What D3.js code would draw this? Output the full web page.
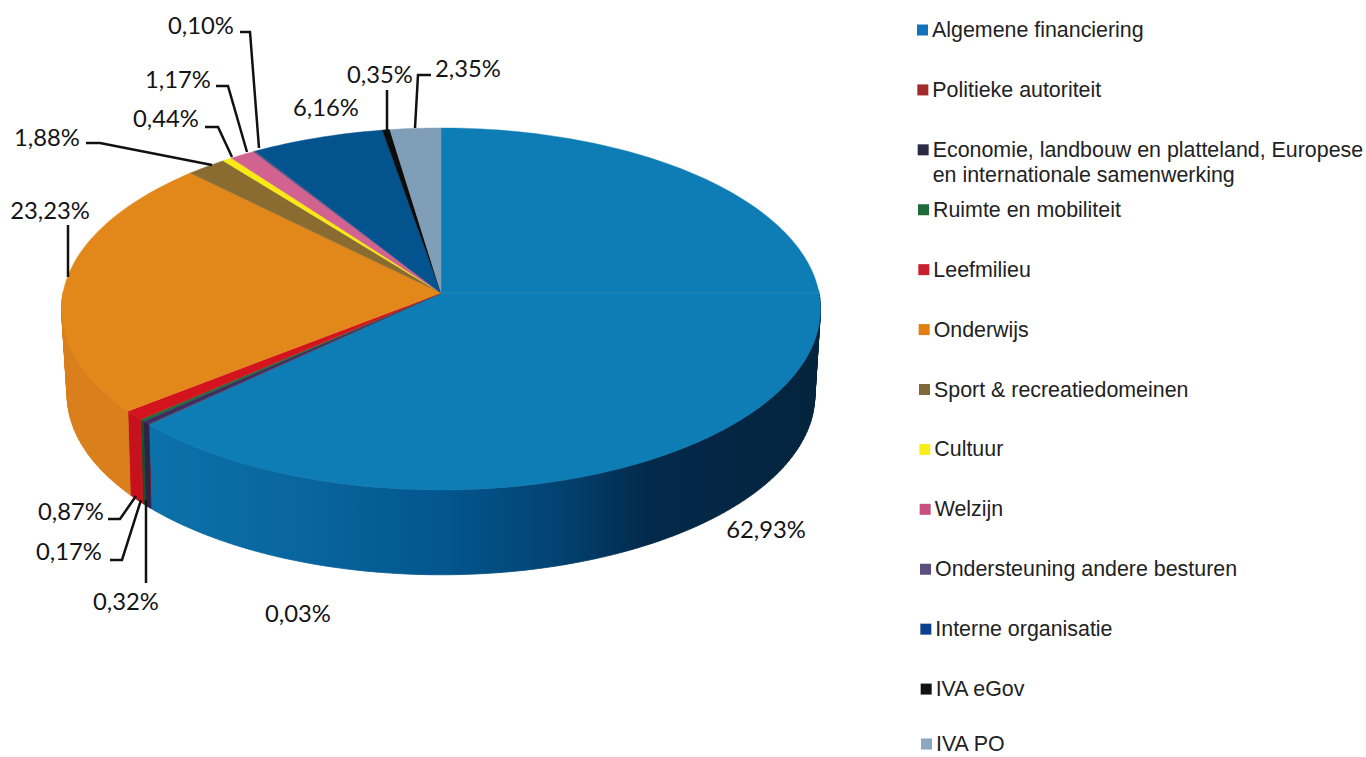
<!DOCTYPE html>
<html>
<head>
<meta charset="utf-8">
<script src="https://cdn.jsdelivr.net/npm/d3@7/dist/d3.min.js"></script>
<style>
html,body{margin:0;padding:0;background:#fff;overflow:hidden}
svg{display:block}
</style>
</head>
<body>
<svg id="c" width="1366" height="757"></svg>
<script>
// ---- data ----
const categories = ["Algemene financiering","Politieke autoriteit","Economie, landbouw en platteland, Europese en internationale samenwerking","Ruimte en mobiliteit","Leefmilieu","Onderwijs","Sport & recreatiedomeinen","Cultuur","Welzijn","Ondersteuning andere besturen","Interne organisatie","IVA eGov","IVA PO"];
const values = [62.93,0.03,0.32,0.17,0.87,23.23,1.88,0.44,1.17,0.10,6.16,0.35,2.35];
const topColors = ["#0f7db5","#9c2a2c","#3b2f62","#1f6b3a","#d3141f","#e2881a","#8b6c30","#f8ea12","#d2628f","#5a5080","#03538f","#0c0c0c","#7f9fb9"];
const sideColors = ["url(#blueSide)","#7c1f20","#2c2349","#175029","#c5121c","#d97f1c","#6f5526","#d8cb10","#b05078","#443c60","#023c68","#000000","#64809a"];
const swatchColors = ["#1273b8","#a12a2d","#2b2a45","#1f6b3a","#c8202f","#e17f13","#80683a","#f7ee1a","#c94f80","#5a5080","#0f3f8f","#111111","#8aa6c0"];

// label layout (separate from the values): text anchor point and leader bend/start
const labelLayout = [
  {i:0,  x:766, y:529},
  {i:1,  x:298, y:613},
  {i:2,  x:126, y:601, path:[[146,583],[146,500]]},
  {i:3,  x:69,  y:551, path:[[110,560],[122,560],[141,500]]},
  {i:4,  x:71,  y:511, path:[[108,519],[120,519],[136,496]]},
  {i:5,  x:50,  y:210, path:[[68,225],[68,277]]},
  {i:6,  x:47,  y:137, path:[[86,143],[100,143],[212,165]]},
  {i:7,  x:166, y:118, path:[[205,127],[218,127],[232,157]]},
  {i:8,  x:178, y:79,  path:[[216,86],[228,86],[247,152]]},
  {i:9,  x:201, y:25,  path:[[240,32],[250,32],[259,148]]},
  {i:10, x:326, y:107},
  {i:11, x:380, y:74,  path:[[387,90],[387,130]]},
  {i:12, x:468, y:68,  path:[[431,75],[418,75],[415,128]]}
];

// ---- projection: unit disc to the picture with perspective ----
const topDisc = {cx:441, cy:293, a:378, c:179.6, k:0.088};
const botDisc = {cx:441, cy:377, a:372, c:178,   k:0.10};
function project(d, theta, r=1){
  const u = r*Math.sin(theta), v = r*Math.cos(theta), w = 1 + d.k*v;
  return [d.cx + d.a*u/w, d.cy - d.c*v/w];
}
function samples(a0, a1){
  const n = Math.max(2, Math.ceil((a1-a0)/0.02));
  return d3.range(n+1).map(j => a0 + (a1-a0)*j/n);
}

const svg = d3.select("#c");
const defs = svg.append("defs");
const grad = defs.append("linearGradient").attr("id","blueSide")
  .attr("gradientUnits","userSpaceOnUse").attr("x1",145).attr("x2",820).attr("y1",0).attr("y2",0);
[[0,"#0c72a9"],[0.2,"#0a67a0"],[0.44,"#03568f"],[0.6,"#024474"],[0.75,"#03294a"],[1,"#04243d"]]
  .forEach(s => grad.append("stop").attr("offset",s[0]).attr("stop-color",s[1]));

const arcs = d3.pie().sort(null).value(d => d)(values);
const line = d3.line();

// sides: a strip of small quads between the top rim and the bottom rim,
// only on the front of the rim, all wound the same way so overlaps stay filled
svg.append("g").selectAll("path").data(arcs).join("path")
  .attr("fill",(d,i)=>sideColors[i])
  .attr("stroke",(d,i)=>sideColors[i]).attr("stroke-width",0.8).attr("stroke-linejoin","round")
  .attr("d",d=>{
    const th = samples(d.startAngle,d.endAngle);
    return d3.pairs(th).filter(([a,b]) => Math.cos(a) < 0.02 && Math.cos(b) < 0.02).map(([a,b]) => {
      const q = [project(topDisc,a),project(topDisc,b),project(botDisc,b),project(botDisc,a)];
      if (d3.polygonArea(q) < 0) q.reverse();
      return line(q)+"Z";
    }).join("");
  });

// top face
svg.append("g").selectAll("path").data(arcs).join("path")
  .attr("fill",(d,i)=>topColors[i])
  .attr("stroke",(d,i)=>topColors[i]).attr("stroke-width",0.4)
  .attr("d",d=>{
    const th = samples(d.startAngle,d.endAngle);
    return line([project(topDisc,0,0)].concat(th.map(t=>project(topDisc,t))))+"Z";
  });

// faint crease of the top face
svg.append("path")
  .attr("d",line([project(topDisc,0,0),project(topDisc,Math.PI/2)]))
  .attr("stroke","#3f97c6").attr("stroke-width",1).attr("stroke-opacity",0.45).attr("fill","none");

// leaders and labels
const fmt = v => v.toFixed(2).replace(".",",")+"%";
svg.append("g").selectAll("path").data(labelLayout.filter(l=>l.path)).join("path")
  .attr("d",l=>line(l.path)).attr("fill","none").attr("stroke","#111").attr("stroke-width",2.5);
svg.append("g").selectAll("text").data(labelLayout).join("text")
  .attr("x",l=>l.x).attr("y",l=>l.y).attr("text-anchor","middle").attr("dominant-baseline","central")
  .attr("font-family","Lato, 'Open Sans', sans-serif").attr("font-size",23.8).attr("fill","#141414")
  .text(l=>fmt(values[l.i]));

// legend
const legendY = d3.scaleLinear().domain([0,12]).range([30,749]);
const legendX = d3.scaleLinear().domain([0,12]).range([917,921]);
const wrap = {2:["Economie, landbouw en platteland, Europese","en internationale samenwerking"]};
const leg = svg.append("g").selectAll("g").data(categories).join("g")
  .attr("transform",(d,i)=>`translate(${legendX(i)},${Math.min(legendY(i),744)})`);
leg.append("rect").attr("x",0).attr("y",-5.5).attr("width",11).attr("height",11)
  .attr("fill",(d,i)=>swatchColors[i]);
leg.append("text").attr("x",15).attr("font-family","'Liberation Sans', Arial, sans-serif")
  .attr("font-size",21.4).attr("fill","#222")
  .each(function(d,i){
    const lines = wrap[i] || [d];
    d3.select(this).selectAll("tspan").data(lines).join("tspan")
      .attr("x",15).attr("y",(t,j)=>7+j*25).text(t=>t);
  });
</script>
</body>
</html>
